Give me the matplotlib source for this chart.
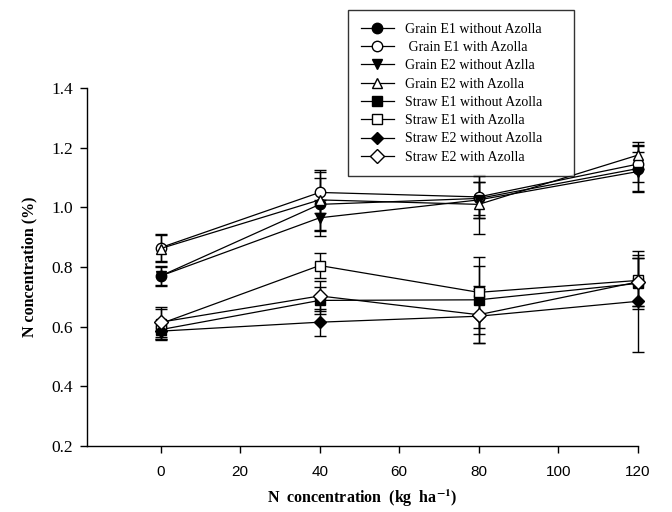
import matplotlib
matplotlib.use("Agg")
import matplotlib.pyplot as plt

plt.rcParams["mathtext.fontset"] = "stix"

# N rate applied (kg/ha)
n_rate = [0, 40, 80, 120]

labels = [
    "Grain E1 without Azolla",
    " Grain E1 with Azolla",
    "Grain E2 without Azlla",
    "Grain E2 with Azolla",
    "Straw E1 without Azolla",
    "Straw E1 with Azolla",
    "Straw E2 without Azolla",
    "Straw E2 with Azolla",
]

# mean N concentration (%)
grain_e1_wo = [0.770, 1.010, 1.030, 1.130]
grain_e1_w = [0.865, 1.050, 1.035, 1.145]
grain_e2_wo = [0.770, 0.965, 1.025, 1.120]
grain_e2_w = [0.862, 1.025, 1.010, 1.175]
straw_e1_wo = [0.590, 0.688, 0.690, 0.745]
straw_e1_w = [0.610, 0.805, 0.715, 0.755]
straw_e2_wo = [0.585, 0.615, 0.635, 0.685]
straw_e2_w = [0.615, 0.703, 0.640, 0.750]

# standard errors
grain_e1_wo_se = [0.035, 0.090, 0.055, 0.080]
grain_e1_w_se = [0.045, 0.070, 0.070, 0.060]
grain_e2_wo_se = [0.030, 0.060, 0.060, 0.065]
grain_e2_w_se = [0.045, 0.100, 0.098, 0.045]
straw_e1_wo_se = [0.030, 0.045, 0.115, 0.085]
straw_e1_w_se = [0.050, 0.042, 0.120, 0.085]
straw_e2_wo_se = [0.030, 0.045, 0.090, 0.170]
straw_e2_w_se = [0.050, 0.050, 0.095, 0.080]

means = [grain_e1_wo, grain_e1_w, grain_e2_wo, grain_e2_w,
         straw_e1_wo, straw_e1_w, straw_e2_wo, straw_e2_w]
errs = [grain_e1_wo_se, grain_e1_w_se, grain_e2_wo_se, grain_e2_w_se,
        straw_e1_wo_se, straw_e1_w_se, straw_e2_wo_se, straw_e2_w_se]
markers = ["o", "o", "v", "^", "s", "s", "D", "D"]
faces = ["black", "white", "black", "white", "black", "white", "black", "white"]
sizes = [7.5, 7.5, 7.5, 7.5, 6.5, 6.5, 6.5, 7]

serif = "Liberation Serif"
sans = "Liberation Sans"

fig = plt.figure(figsize=(6.72, 5.12), dpi=100)
ax = fig.add_axes([0.129, 0.129, 0.820, 0.699])

for y, e in zip(means, errs):
    eb = ax.errorbar(n_rate, y, yerr=e, fmt="none", ecolor="black",
                     elinewidth=1.0, capsize=4.5, capthick=1.0, zorder=2)
    for art in eb.lines[1] + eb.lines[2]:
        art.set_clip_on(False)

for y, lab, m, fc, ms in zip(means, labels, markers, faces, sizes):
    ax.plot(n_rate, y, color="black", lw=0.9, marker=m, markersize=ms,
            markerfacecolor=fc, markeredgecolor="black", markeredgewidth=1.0,
            label=lab, zorder=3, clip_on=False)

ax.set_xlim(-18.6, 120)
ax.set_ylim(0.2, 1.4)
ax.set_xticks([0, 20, 40, 60, 80, 100, 120])
ax.set_yticks([0.2, 0.4, 0.6, 0.8, 1.0, 1.2, 1.4])
ax.set_yticklabels(["0.2", "0.4", "0.6", "0.8", "1.0", "1.2", "1.4"])
ax.spines["top"].set_visible(False)
ax.spines["right"].set_visible(False)
for s in ("left", "bottom"):
    ax.spines[s].set_linewidth(1.0)
ax.tick_params(direction="out", length=5, width=1.0, color="black")
for t in ax.get_xticklabels():
    t.set_fontfamily(sans)
    t.set_fontsize(11)
for t in ax.get_yticklabels():
    t.set_fontfamily(serif)
    t.set_fontsize(12.5)
ax.tick_params(axis="x", pad=9)
ax.tick_params(axis="y", pad=5)

ax.set_ylabel("N concentration (%)", fontfamily=serif, fontweight="bold",
              fontsize=11.5, labelpad=10)
ax.set_xlabel(r"N  concentration  (kg  ha$^{\mathbf{-1}}$)", fontfamily=serif,
              fontweight="bold", fontsize=11.5, labelpad=6)

leg = ax.legend(loc="upper left", bbox_to_anchor=(0.518, 0.666, 0.336, 0.314),
                bbox_transform=fig.transFigure, borderaxespad=0, mode="expand",
                prop={"family": serif, "size": 10}, frameon=True,
                fancybox=False, handlelength=2.4, handletextpad=0.8,
                labelspacing=0.38, borderpad=0.9)
leg.get_frame().set_edgecolor("black")
leg.get_frame().set_linewidth(1.0)

fig.savefig("out.png", dpi=100)
